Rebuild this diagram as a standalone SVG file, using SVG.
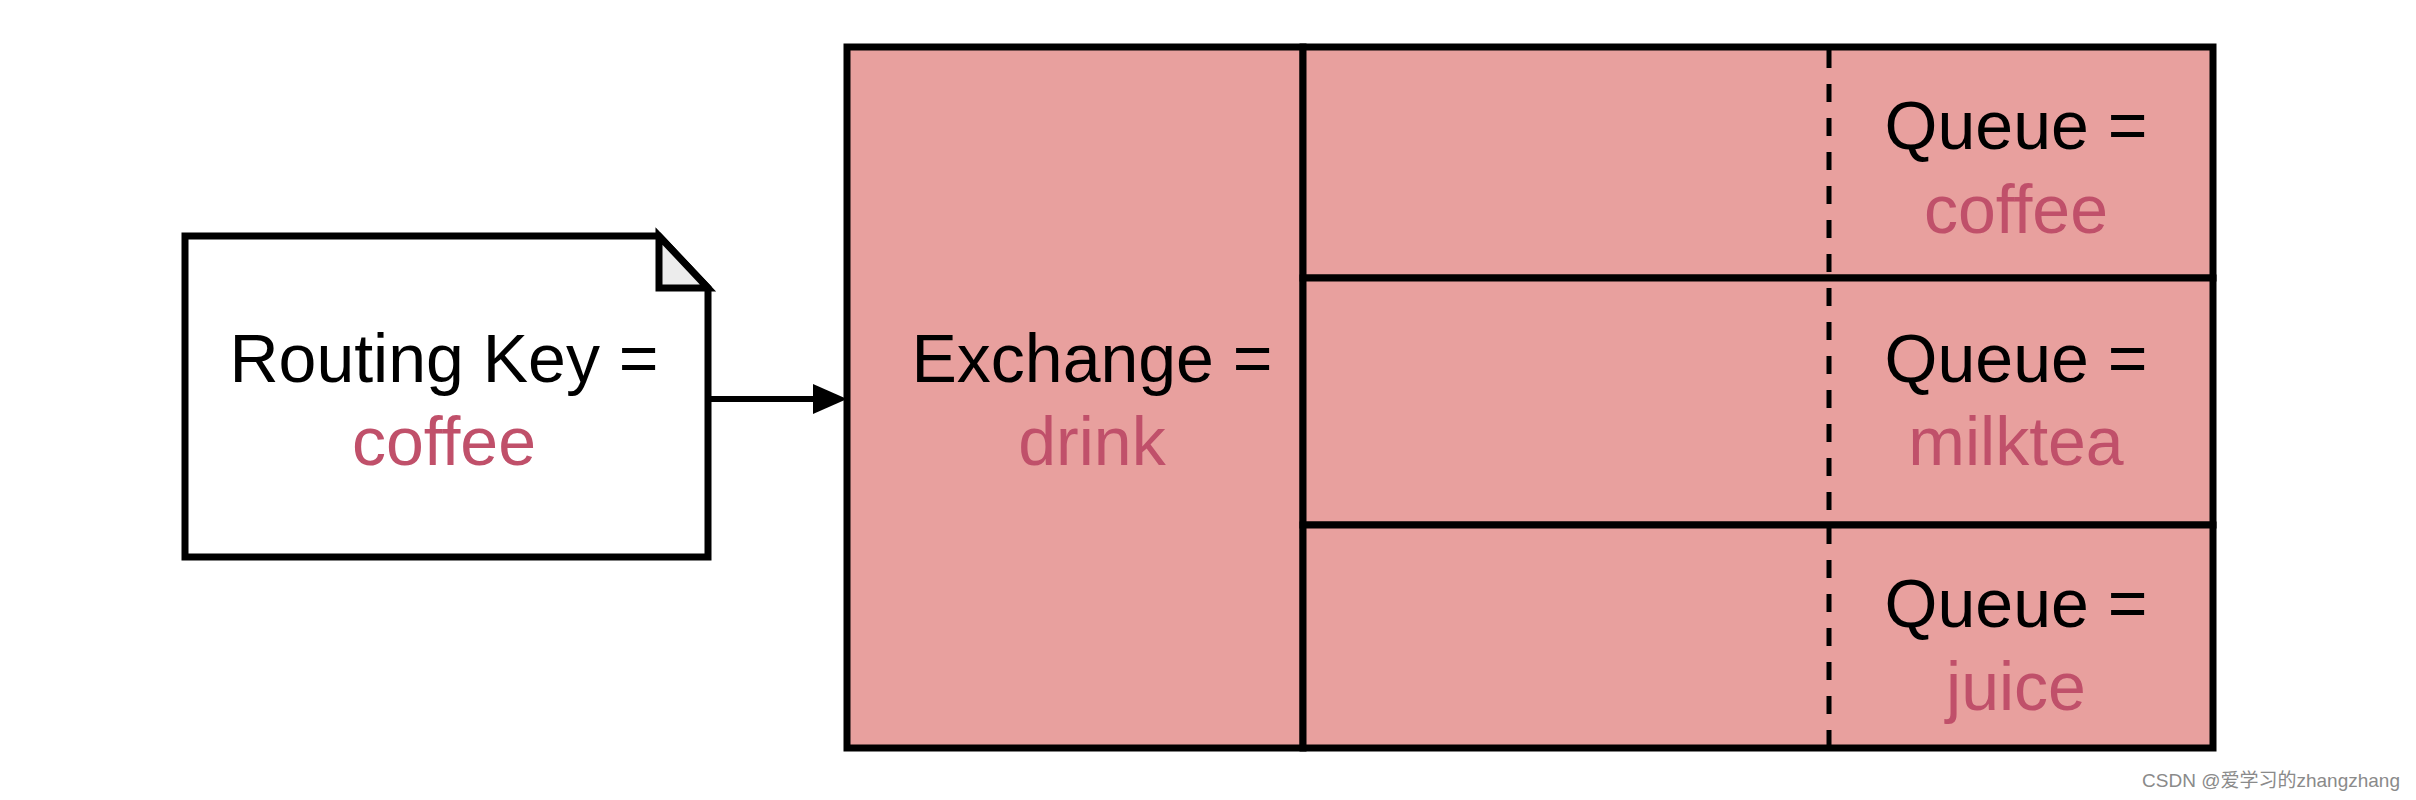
<svg xmlns="http://www.w3.org/2000/svg" width="2416" height="800" viewBox="0 0 2416 800">
<style>
.t{font-family:"Liberation Sans",Arial,sans-serif;font-size:68px;text-anchor:middle}
.k{fill:#000}
.r{fill:#c0506a}
.ln{stroke:#000;stroke-width:7;fill:none}
</style>
<defs>
<marker id="ah" markerWidth="10" markerHeight="10" refX="9" refY="5" orient="auto" markerUnits="userSpaceOnUse" viewBox="0 0 10 10">
<path d="M0,0 L10,5 L0,10 z" fill="#000"/>
</marker>
</defs>
<rect width="2416" height="800" fill="#fff"/>
<g id="routing-key">
<path d="M185,236 H659 L708,288 V557 H185 Z" fill="#fff" stroke="#000" stroke-width="7" stroke-linejoin="miter"/>
<path d="M659,236 V288 H708 Z" fill="#ececec" stroke="#000" stroke-width="7" stroke-linejoin="miter"/>
<text class="t k" x="444" y="382">Routing Key =</text>
<text class="t r" x="444" y="465">coffee</text>
</g>
<g id="connectors">
<line x1="710" y1="399" x2="815" y2="399" stroke="#000" stroke-width="6"/>
<path d="M813,384 L847,399 L813,414 Z" fill="#000"/>
</g>
<g id="exchange">
<rect x="847" y="47" width="456" height="701" fill="#e8a09e" stroke="#000" stroke-width="7"/>
<text class="t k" x="1092" y="382">Exchange =</text>
<text class="t r" x="1092" y="465">drink</text>
</g>
<g id="queue-coffee">
<rect x="1303" y="47" width="910" height="231" fill="#e8a09e" stroke="#000" stroke-width="7"/>
<text class="t k" x="2016" y="149">Queue =</text>
<text class="t r" x="2016" y="233">coffee</text>
</g>
<g id="queue-milktea">
<rect x="1303" y="278" width="910" height="247" fill="#e8a09e" stroke="#000" stroke-width="7"/>
<text class="t k" x="2016" y="382">Queue =</text>
<text class="t r" x="2016" y="465">milktea</text>
</g>
<g id="queue-juice">
<rect x="1303" y="525" width="910" height="223" fill="#e8a09e" stroke="#000" stroke-width="7"/>
<text class="t k" x="2016" y="627">Queue =</text>
<text class="t r" x="2016" y="710">juice</text>
</g>
<g id="divider">
<line x1="1829" y1="50" x2="1829" y2="745" stroke="#000" stroke-width="5" stroke-dasharray="18 16"/>
</g>
<text x="2400" y="787" font-family="'Liberation Sans','Noto Sans CJK SC',sans-serif" font-size="19" fill="#8a8a8a" text-anchor="end">CSDN @爱学习的zhangzhang</text>
</svg>
